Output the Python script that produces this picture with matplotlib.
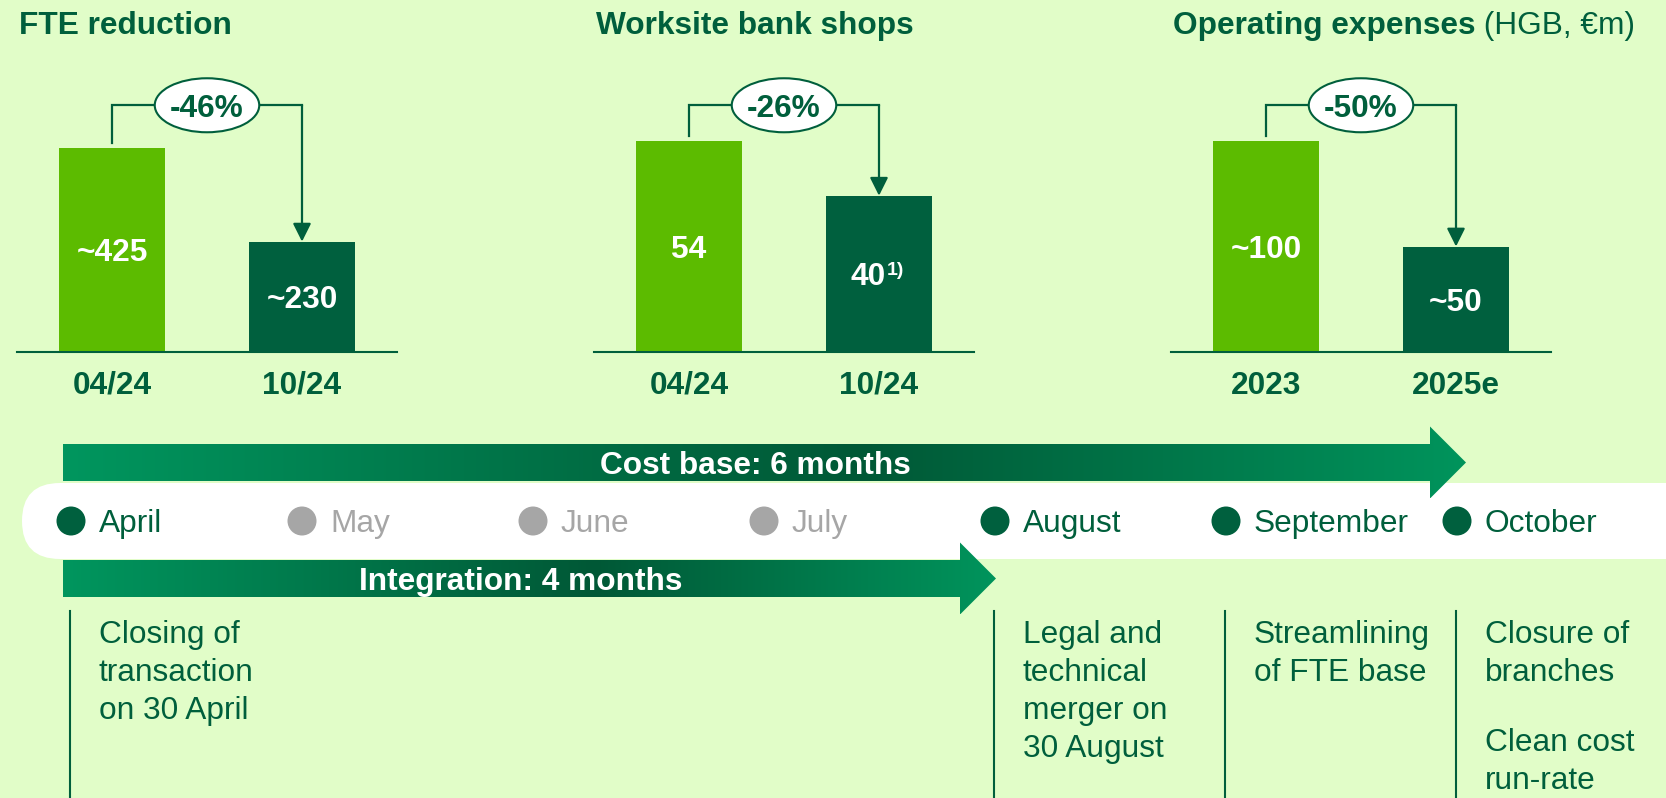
import numpy as np
import matplotlib
matplotlib.use('Agg')
import matplotlib.pyplot as plt
from matplotlib.patches import Ellipse, Circle, FancyBboxPatch, Polygon

plt.rcParams['font.family'] = ['Liberation Sans', 'DejaVu Sans']

# ---- data ----
panel_titles = ['FTE reduction', 'Worksite bank shops', 'Operating expenses']
title_suffix = ['', '', ' (HGB, €m)']

fte_periods = ['04/24', '10/24']
fte_values = [425, 230]
fte_labels = ['~425', '~230']

shop_periods = ['04/24', '10/24']
shop_values = [54, 40]
shop_labels = ['54', '40']
shop_notes = ['', '1)']

opex_periods = ['2023', '2025e']
opex_values = [100, 50]
opex_labels = ['~100', '~50']

changes = ['-46%', '-26%', '-50%']

months = ['April', 'May', 'June', 'July', 'August', 'September', 'October']
month_done = [True, False, False, False, True, True, True]

phases = [('Cost base: 6 months', 0, 6), ('Integration: 4 months', 0, 4)]

milestones = {
    'April': 'Closing of\ntransaction\non 30 April',
    'August': 'Legal and\ntechnical\nmerger on\n30 August',
    'September': 'Streamlining\nof FTE base',
    'October': 'Closure of\nbranches\n\nClean cost\nrun-rate',
}

# ---- style ----
BG = '#E1FDC8'
DG = '#005F3C'
LIGHT = '#5CBB00'
DARK = '#00603E'
GREY = '#A6A6A6'
FS = 22.8

W, H = 1666, 798
fig = plt.figure(figsize=(W / 100, H / 100), dpi=100, facecolor=BG)
bg = fig.add_axes([0, 0, 1, 1], zorder=0)
bg.set_facecolor(BG)
bg.axis('off')

# ---- bar panels ----
panels = [
    (fte_periods, fte_values, fte_labels, ['', '']),
    (shop_periods, shop_values, shop_labels, shop_notes),
    (opex_periods, opex_values, opex_labels, ['', '']),
]
panel_left = [17, 594, 1171]
first_bar_px = [204, 211, 211]
AX_TOP, AX_BOT, AX_W = 60, 352, 380
ax_h = AX_BOT - AX_TOP

for k, (periods, vals, labels, notes) in enumerate(panels):
    ax = fig.add_axes([panel_left[k] / W, (H - AX_BOT) / H, AX_W / W, ax_h / H], zorder=2)
    ax.set_facecolor('none')
    ymax = vals[0] * ax_h / first_bar_px[k]
    x = np.arange(len(vals))
    ax.bar(x, vals, width=0.555, color=[LIGHT, DARK], zorder=2)
    for s in ['top', 'left', 'right']:
        ax.spines[s].set_visible(False)
    ax.spines['bottom'].set_color(DG)
    ax.spines['bottom'].set_linewidth(1.5)
    ax.set_xticks([])
    ax.set_yticks([])

    for i in x:
        ax.annotate(periods[i], xy=(i, 0), xytext=(0, -41.5), textcoords='offset pixels',
                    ha='center', va='baseline', fontsize=FS, fontweight='bold', color=DG,
                    annotation_clip=False)
        if notes[i]:
            ax.annotate(labels[i], xy=(i, vals[i] / 2), xytext=(7, -11.4),
                        textcoords='offset pixels', ha='right', va='baseline',
                        fontsize=FS, fontweight='bold', color='white', zorder=3)
            ax.annotate(notes[i], xy=(i, vals[i] / 2), xytext=(8, -1),
                        textcoords='offset pixels', ha='left', va='baseline',
                        fontsize=14, fontweight='bold', color='white', zorder=3)
        else:
            ax.annotate(labels[i], xy=(i, vals[i] / 2), xytext=(0, -11.4),
                        textcoords='offset pixels', ha='center', va='baseline',
                        fontsize=FS, fontweight='bold', color='white', zorder=3)

    # bracket with change label
    trans = ax.get_xaxis_transform()
    br = 0.845
    y0 = vals[0] / ymax + 5 / ax_h
    ax.plot([0, 0, 1], [y0, br, br], transform=trans, color=DG, lw=1.6,
            solid_joinstyle='miter', zorder=3)
    ax.annotate('', xy=(1, vals[1]), xycoords='data', xytext=(1, br), textcoords=trans,
                arrowprops=dict(arrowstyle='-|>,head_length=1.1,head_width=0.55',
                                mutation_scale=10, color=DG, lw=1.6, shrinkA=0, shrinkB=0),
                zorder=3)
    ax.add_patch(Ellipse((0.5, br), 0.55, 54 / ax_h, transform=trans,
                         facecolor='white', edgecolor=DG, lw=1.5, zorder=4))
    ax.annotate(changes[k], xy=(0.5, br), xycoords=trans, xytext=(0, -11.5),
                textcoords='offset pixels', ha='center', va='baseline',
                fontsize=FS, fontweight='bold', color=DG, zorder=5)
    ax.set_xlim(-0.5, 1.5)
    ax.set_ylim(0, ymax)

    # title
    t = bg.text(panel_left[k] + 2, 34, panel_titles[k], ha='left', va='baseline',
                fontsize=FS, fontweight='bold', color=DG)
    if title_suffix[k]:
        bg.annotate(title_suffix[k], xy=(1, 0), xycoords=t, ha='left', va='bottom',
                    fontsize=FS, color=DG)

# ---- timeline ----
DOT_X0, DOT_STEP, DOT_Y = 71, 231, 521
dot_x = [DOT_X0 + DOT_STEP * i for i in range(len(months))]

bg.add_patch(FancyBboxPatch((22, 483), 1800, 76, boxstyle='round,pad=0,rounding_size=38',
                            facecolor='white', edgecolor='none', zorder=1))

for i, m in enumerate(months):
    c = DARK if month_done[i] else GREY
    bg.add_patch(Circle((dot_x[i], DOT_Y), 14.5, facecolor=c, edgecolor='none', zorder=4))
    bg.text(dot_x[i] + 28, DOT_Y + 11.4, m, ha='left', va='baseline', fontsize=FS,
            color=DG if month_done[i] else GREY, zorder=4)

# gradient arrows
stops = [0.0, 0.57, 1.0]
stop_cols = np.array([[0, 150, 94], [0, 88, 54], [0, 148, 92]]) / 255.0
tt = np.linspace(0, 1, 400)
grad = np.stack([np.interp(tt, stops, stop_cols[:, c]) for c in range(3)], axis=-1)[None, :, :]

arrow_y = [462.5, 578.5]
tip_pad = [9, 1]
BODY_H, HEAD_H, HEAD_L = 37, 72, 36
for (label, s, e), yc, tp in zip(phases, arrow_y, tip_pad):
    x0 = dot_x[s] - 8
    x1 = dot_x[e] + tp
    xh = x1 - HEAD_L
    pts = [(x0, yc - BODY_H / 2), (xh, yc - BODY_H / 2), (xh, yc - HEAD_H / 2), (x1, yc),
           (xh, yc + HEAD_H / 2), (xh, yc + BODY_H / 2), (x0, yc + BODY_H / 2)]
    poly = Polygon(pts, closed=True, facecolor='none', edgecolor='none')
    bg.add_patch(poly)
    im = bg.imshow(grad, extent=(x0, x1, yc + HEAD_H / 2, yc - HEAD_H / 2),
                   aspect='auto', zorder=3, interpolation='bilinear')
    im.set_clip_path(poly)
    bg.text((x0 + xh) / 2 + 9, yc + 11.4, label, ha='center', va='baseline',
            fontsize=FS, fontweight='bold', color='white', zorder=5)

# milestones
LINE_STEP = 38
for m, txt in milestones.items():
    xi = dot_x[months.index(m)]
    bg.plot([xi - 1, xi - 1], [611, H], color=DG, lw=1.5, zorder=2)
    yb = 643
    for line in txt.split('\n'):
        if line == '':
            yb += LINE_STEP * 0.85
            continue
        bg.text(xi + 28, yb, line, ha='left', va='baseline', fontsize=FS, color=DG, zorder=4)
        yb += LINE_STEP

bg.set_xlim(0, W)
bg.set_ylim(H, 0)

fig.savefig('out.png', dpi=100, facecolor=BG)
